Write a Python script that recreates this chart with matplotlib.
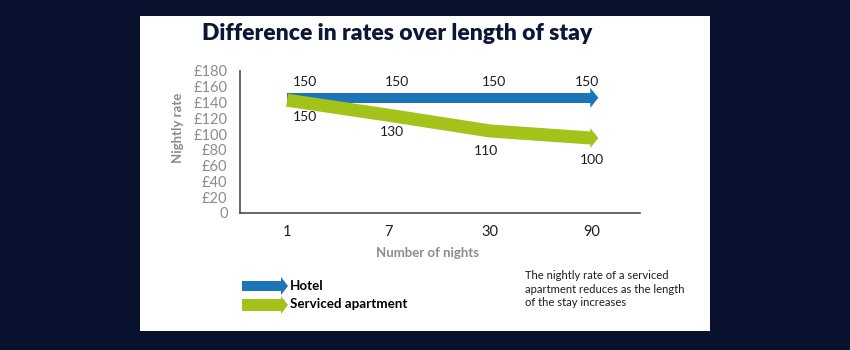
import matplotlib
matplotlib.use('Agg')
import matplotlib.pyplot as plt
from matplotlib.patches import Rectangle, Polygon, FancyArrow
from matplotlib.transforms import ScaledTranslation

nights = ['1', '7', '30', '90']
hotel = [146, 146, 146, 146]
apartment = [143, 124, 104, 95]
hotel_labels = ['150', '150', '150', '150']
apartment_labels = ['150', '130', '110', '100']
y_ticks = [0, 20, 40, 60, 80, 100, 120, 140, 160, 180]
y_ticklabels = ['0'] + ['£%d' % v for v in y_ticks[1:]]

NAVY = '#08112e'
BLUE = '#1c74b9'
GREEN = '#a3c31b'
GREY = '#8c8c8c'
INK = '#1e1e1e'

plt.rcParams['font.family'] = ['Lato', 'DejaVu Sans']

fig = plt.figure(figsize=(8.5, 3.5), dpi=100, facecolor=NAVY)
fig.add_artist(Rectangle((1.40, 0.19), 5.70, 3.15, transform=fig.dpi_scale_trans,
                         facecolor='white', edgecolor='none', zorder=-1))

ax = fig.add_axes([240 / 850, 137 / 350, 400 / 850, 142 / 350])
ax.patch.set_alpha(0)
x = list(range(len(nights)))
ax.set_xlim(-0.464, 3.48)
ax.set_ylim(0, 180)
for s in ['top', 'right']:
    ax.spines[s].set_visible(False)
for s in ['left', 'bottom']:
    ax.spines[s].set_color('#4d4d4d')
    ax.spines[s].set_linewidth(1.2)
ax.set_yticks(y_ticks)
ax.set_yticklabels(y_ticklabels, color=GREY, fontsize=10.5)
ax.set_xticks(x)
ax.set_xticklabels(nights, color=INK, fontsize=10.5)
ax.tick_params(axis='y', length=0, pad=9)
ax.tick_params(axis='x', length=0, pad=9)

ax.plot(x, hotel, color=BLUE, lw=7.2, solid_capstyle='butt', zorder=2)
ax.plot(x, apartment, color=GREEN, lw=9.4, solid_capstyle='butt',
        solid_joinstyle='round', zorder=3)


def head(xv, yv, color, half, length, z):
    trans = fig.dpi_scale_trans + ScaledTranslation(xv, yv, ax.transData)
    ax.add_patch(Polygon([(-0.01, -half), (length, 0), (-0.01, half)], closed=True,
                         transform=trans, facecolor=color, edgecolor='none', zorder=z))


head(x[-1], hotel[-1], BLUE, 0.10, 0.07, 2)
head(x[-1], apartment[-1], GREEN, 0.10, 0.07, 3)

hotel_off = [(18, 16), (9, 16), (4, 16), (-4, 16)]
apt_off = [(18, -17), (3, -17), (-4, -20), (1, -22)]
for i in x:
    ax.annotate(hotel_labels[i], (i, hotel[i]), xytext=hotel_off[i], textcoords='offset pixels',
                ha='center', va='center', fontsize=10, color=INK)
    ax.annotate(apartment_labels[i], (i, apartment[i]), xytext=apt_off[i],
                textcoords='offset pixels', ha='center', va='center', fontsize=10, color=INK)

fig.text(397 / 850, 1 - 33 / 350, 'Difference in rates over length of stay',
         ha='center', va='center', fontsize=16.5, fontweight='heavy', color='#0c1738')
fig.text(178 / 850, 1 - 128 / 350, 'Nightly rate', rotation=90, ha='center', va='center',
         fontsize=9.5, fontweight='bold', color=GREY)
fig.text(428 / 850, 1 - 253 / 350, 'Number of nights', ha='center', va='center',
         fontsize=9.5, fontweight='bold', color=GREY)

# legend
fig.add_artist(FancyArrow(2.42, 0.64, 0.46, 0, width=0.10, head_width=0.18, head_length=0.07,
                          length_includes_head=True, transform=fig.dpi_scale_trans,
                          color=BLUE, lw=0))
fig.add_artist(FancyArrow(2.42, 0.45, 0.46, 0, width=0.12, head_width=0.18, head_length=0.07,
                          length_includes_head=True, transform=fig.dpi_scale_trans,
                          color=GREEN, lw=0))
fig.text(2.90 / 8.5, 0.645 / 3.5, 'Hotel', va='center', fontsize=9.6, fontweight='bold', color='black')
fig.text(2.90 / 8.5, 0.455 / 3.5, 'Serviced apartment', va='center', fontsize=9.6,
         fontweight='bold', color='black')

fig.text(525 / 850, 1 - 270 / 350,
         'The nightly rate of a serviced\napartment reduces as the length\nof the stay increases',
         ha='left', va='top', fontsize=8.1, linespacing=1.3, color=INK)

fig.savefig('out.png', dpi=100, facecolor=NAVY)
